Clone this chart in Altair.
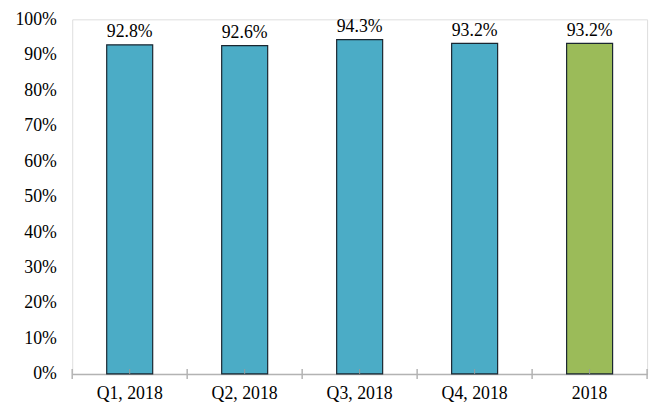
import altair as alt
import pandas as pd

categories = ["Q1, 2018", "Q2, 2018", "Q3, 2018", "Q4, 2018", "2018"]
values = [0.928, 0.926, 0.943, 0.932, 0.932]
groups = ["quarter", "quarter", "quarter", "quarter", "year"]
group_colors = ["#4BACC6", "#9BBB59"]
y_ticks = [0.0, 0.1, 0.2, 0.3, 0.4, 0.5, 0.6, 0.7, 0.8, 0.9, 1.0]

df = pd.DataFrame({"cat": categories, "val": values, "grp": groups})
FONT = "Liberation Serif"
FS = 18
H = 359

xscale = alt.Scale(domain=categories, paddingInner=0, paddingOuter=0)
yscale = alt.Scale(domain=[0, 1], nice=False)
x_axis = alt.Axis(title=None, ticks=False, domainColor="#b3b3b3", domainWidth=1.5,
                  labelFont=FONT, labelFontSize=FS, labelColor="#000000",
                  labelAngle=0, labelPadding=11, labelOverlap=False)
y_axis = alt.Axis(title=None, values=y_ticks, format=".0%", domain=False, ticks=False,
                  grid=False, labelFont=FONT, labelFontSize=FS, labelColor="#000000",
                  labelPadding=16, labelOverlap=False, labelBound=False, tickCount=11)

bars = alt.Chart(df).mark_bar(width=alt.RelativeBandSize(0.4), stroke="#1a2630", strokeWidth=1.2).encode(
    x=alt.X("cat:N", sort=categories, scale=xscale, axis=x_axis),
    y=alt.Y("val:Q", scale=yscale, axis=y_axis),
    color=alt.Color("grp:N", scale=alt.Scale(domain=["quarter", "year"], range=group_colors), legend=None),
)

labels = alt.Chart(df).mark_text(font=FONT, fontSize=FS, color="#000000", baseline="alphabetic", dy=-8).encode(
    x=alt.X("cat:N", sort=categories, scale=xscale, axis=x_axis),
    y=alt.Y("val:Q", scale=yscale, axis=y_axis),
    text=alt.Text("val:Q", format=".1%"),
)

edge_ticks = alt.Chart(df).mark_rule(color="#b3b3b3", strokeWidth=1.5).encode(
    x=alt.X("cat:N", sort=categories, scale=xscale, bandPosition=0, axis=x_axis),
    y=alt.value(H - 5), y2=alt.value(H + 5),
)
last_tick = alt.Chart(df.tail(1)).mark_rule(color="#b3b3b3", strokeWidth=1.5).encode(
    x=alt.X("cat:N", sort=categories, scale=xscale, bandPosition=1, axis=x_axis),
    y=alt.value(H - 5), y2=alt.value(H + 5),
)
mid_ticks = alt.Chart(df).mark_rule(color="#9a9a9a", strokeWidth=1).encode(
    x=alt.X("cat:N", sort=categories, scale=xscale, axis=x_axis),
    y=alt.value(H - 5), y2=alt.value(H),
)

chart = alt.layer(bars, mid_ticks, edge_ticks, last_tick, labels).properties(
    width=582, height=H,
    autosize=alt.AutoSizeParams(type="none"),
    padding={"left": 65, "top": 9, "right": 8, "bottom": 33},
).configure_view(stroke=None).configure(background="#ffffff")

chart.save("out.html", embed_options={"renderer": "svg", "actions": False})
